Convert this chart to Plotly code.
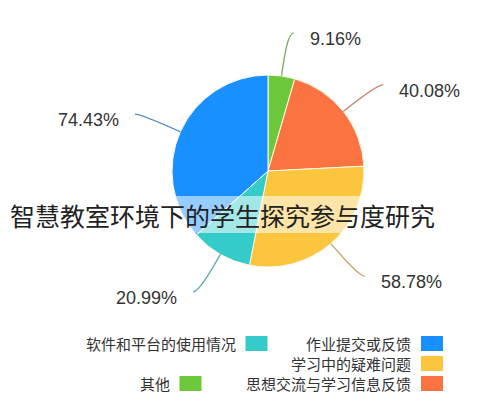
import math
import plotly.graph_objects as go

W, H = 501, 400

title_text = "智慧教室环境下的学生探究参与度研究"
categories = ["作业提交或反馈", "软件和平台的使用情况", "学习中的疑难问题",
              "思想交流与学习信息反馈", "其他"]
values = [74.43, 20.99, 58.78, 40.08, 9.16]
colors = ["#1890FF", "#36CBCB", "#FBC53D", "#FA7340", "#6DC83B"]


def px(x):
    return x / W


def py(y):
    return 1 - y / H


def mix(hex_color, other="#8a8a8a", t=0.5):
    a = [int(hex_color[i:i + 2], 16) for i in (1, 3, 5)]
    b = [int(other[i:i + 2], 16) for i in (1, 3, 5)]
    c = [round(a[k] * (1 - t) + b[k] * t) for k in range(3)]
    return "rgb(%d,%d,%d)" % tuple(c)


# pie geometry in pixels
cx, cy, r = 260, 163, 96

fig = go.Figure()

# the picture is mirrored: slices run counterclockwise from 12 o'clock,
# so draw the reversed list clockwise
fig.add_trace(go.Pie(
    labels=categories[::-1], values=values[::-1], sort=False,
    direction="clockwise", rotation=0,
    marker=dict(colors=colors[::-1], line=dict(color="#fffbe8", width=1)),
    textinfo="none", hoverinfo="label+value", showlegend=False,
    domain=dict(x=[px(cx - r), px(cx + r)], y=[py(cy + r), py(cy - r)]),
))

shapes = []
annotations = []

# leader lines + value labels (angles measured counterclockwise from top)
total = sum(values)
acc = 0
for v, col in zip(values, colors):
    phi = 2 * math.pi * (acc + v / 2) / total
    acc += v
    sx, sy = -math.sin(phi), -math.cos(phi)
    side = 1 if sx >= 0 else -1
    x0, y0 = cx + r * sx, cy + r * sy
    x1, y1 = cx + 1.2 * r * sx, cy + 1.2 * r * sy
    x2, y2 = cx + 1.45 * r * sx, cy + 1.45 * r * sy
    x3, y3 = x2 + 6 * side, y2
    shapes.append(dict(
        type="path", xref="paper", yref="paper",
        path="M %f,%f C %f,%f %f,%f %f,%f" % (px(x0), py(y0), px(x1), py(y1),
                                               px(x2), py(y2), px(x3), py(y3)),
        line=dict(color=mix(col), width=1.3),
    ))
    annotations.append(dict(
        x=px(x3 + 14 * side), y=py(y3 + 6), xref="paper", yref="paper",
        text="%.2f%%" % v, showarrow=False,
        xanchor="left" if side > 0 else "right", yanchor="middle",
        font=dict(family="Liberation Sans, Arial", size=18, color="#333333"),
    ))

# legend, flowing from the right edge
legend_right, legend_min = 435, 50
box_w, box_h, char_w = 22, 15, 16.5
row_y0, row_h = 335.5, 20
x_right, row = legend_right, 0
for cat, col in zip(categories, colors):
    w = box_w + 8 + len(cat) * char_w
    if x_right - w < legend_min and x_right != legend_right:
        row += 1
        x_right = legend_right
    yc = row_y0 + row * row_h
    shapes.append(dict(
        type="rect", xref="paper", yref="paper",
        x0=px(x_right - box_w), x1=px(x_right),
        y0=py(yc + box_h / 2), y1=py(yc - box_h / 2),
        fillcolor=col, line=dict(width=0),
    ))
    annotations.append(dict(
        x=px(x_right - box_w - 8), y=py(yc), xref="paper", yref="paper",
        text=cat, showarrow=False, xanchor="right", yanchor="middle",
        font=dict(family="Noto Sans CJK SC", size=15, color="#333333"),
    ))
    x_right -= w + 30

# translucent band with the overlaid title
shapes.append(dict(
    type="rect", xref="paper", yref="paper", layer="above",
    x0=0, x1=1, y0=py(225), y1=py(188),
    fillcolor="rgba(255,255,255,0.55)", line=dict(width=0),
))
annotations.append(dict(
    x=0, y=py(207), xref="paper", yref="paper",
    text=title_text, showarrow=False, xanchor="left", yanchor="middle",
    font=dict(family="Noto Sans CJK SC", size=25, color="#222222"),
))

fig.update_layout(
    width=W, height=H,
    margin=dict(l=0, r=0, t=0, b=0),
    paper_bgcolor="white", plot_bgcolor="white",
    shapes=shapes, annotations=annotations,
)

fig.write_html("out.html")
